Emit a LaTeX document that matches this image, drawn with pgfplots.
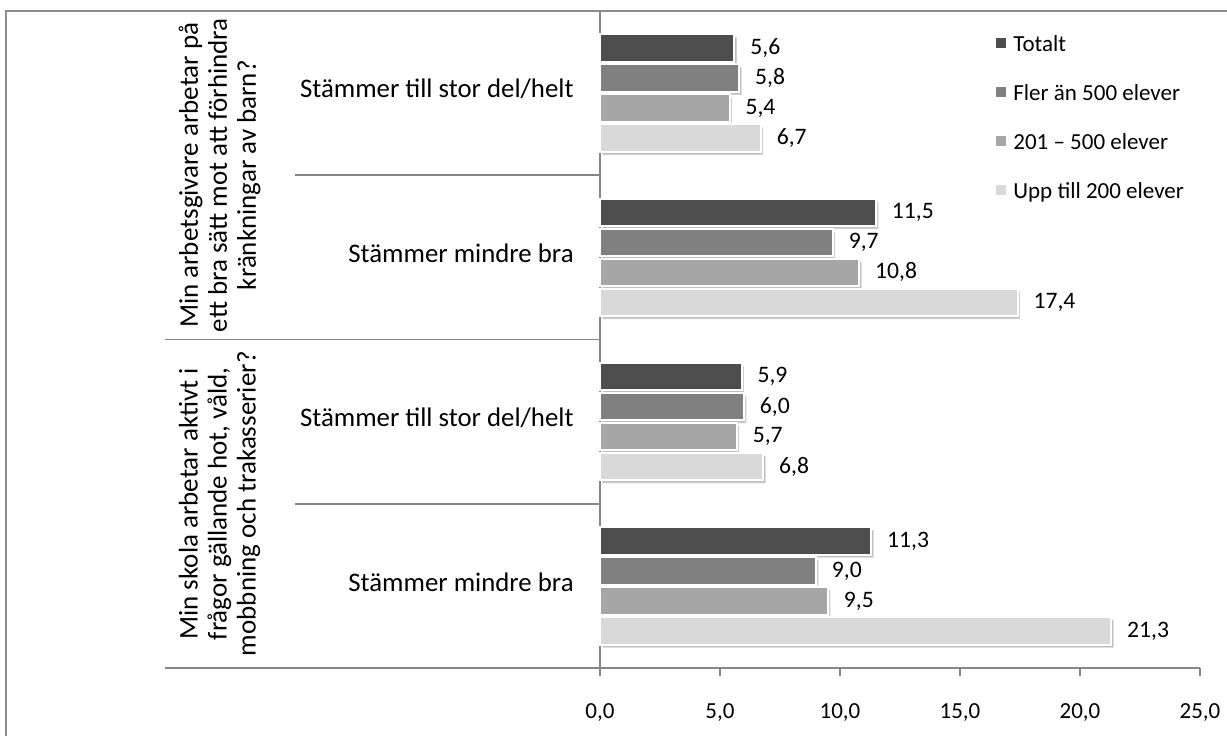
\documentclass[border=0pt]{standalone}
\usepackage{fontspec}
\setmainfont{Carlito}
\usepackage{pgfplots}
\pgfplotsset{compat=1.18}
\usetikzlibrary{shadows}
\definecolor{cA}{HTML}{4D4D4D}
\definecolor{cB}{HTML}{808080}
\definecolor{cC}{HTML}{A6A6A6}
\definecolor{cD}{HTML}{D9D9D9}
\definecolor{lineg}{HTML}{868686}
\begin{document}
\begin{tikzpicture}
\useasboundingbox (-300pt,-33.5pt) rectangle (313.5pt,334pt);
\draw[black!45, line width=1pt] (-297pt,-60pt) rectangle (340pt,328.5pt);
\begin{axis}[
  at={(0pt,0pt)}, anchor=south west,
  scale only axis, width=300pt, height=328.5pt,
  xmin=0, xmax=25, ymin=0.5, ymax=4.5,
  y dir=reverse,
  clip=false,
  axis x line*=bottom, axis y line*=left,
  axis line style={lineg, line width=0.8pt},
  xtick={0,5,10,15,20,25},
  ytick=\empty,
  tick align=outside,
  major tick length=4pt,
  x tick style={lineg, line width=0.8pt},
  /pgf/number format/assume math mode=true,
  xticklabel={\pgfmathprintnumber[fixed,fixed zerofill,precision=1,use comma]{\tick}},
  xticklabel style={font=\fontsize{11.5}{13}\selectfont, yshift=-10pt},
  xbar,
  bar width=0.168,
  point meta=x,
  nodes near coords={\pgfmathprintnumber[fixed,fixed zerofill,precision=1,use comma,assume math mode=true]{\pgfplotspointmeta}},
  every node near coord/.append style={font=\fontsize{11.8}{13}\selectfont, anchor=west, inner sep=0pt, xshift=7.5pt, text=black},
  legend style={at={(rel axis cs:0.66,0.9635)}, anchor=north west, draw=none, fill=none,
    font=\fontsize{11.5}{13}\selectfont, row sep=16.5pt, inner sep=0pt,
    nodes={inner sep=0pt, text depth=0pt}},
  legend cell align=left,
  legend image code/.code={\fill[#1] (0pt,-2.5pt) rectangle (5pt,2.5pt);},
  bars/.style={draw=white, line width=1pt, drop shadow={shadow xshift=1.2pt, shadow yshift=-1.5pt, opacity=0.25, fill=black}},
]
\addlegendimage{fill=cA, draw=none}
\addlegendentry{\hspace{3.5pt}Totalt}
\addlegendimage{fill=cB, draw=none}
\addlegendentry{\hspace{3.5pt}Fler än 500 elever}
\addlegendimage{fill=cC, draw=none}
\addlegendentry{\hspace{3.5pt}201 – 500 elever}
\addlegendimage{fill=cD, draw=none}
\addlegendentry{\hspace{3.5pt}Upp till 200 elever}

\addplot[bars, fill=cA, bar shift=-0.274, forget plot] coordinates {(5.6,1) (11.5,2) (5.9,3) (11.3,4)};
\addplot[bars, fill=cB, bar shift=-0.0913, forget plot] coordinates {(5.8,1) (9.7,2) (6.0,3) (9.0,4)};
\addplot[bars, fill=cC, bar shift=0.0913, forget plot] coordinates {(5.4,1) (10.8,2) (5.7,3) (9.5,4)};
\addplot[bars, fill=cD, bar shift=0.274, forget plot] coordinates {(6.7,1) (17.4,2) (6.8,3) (21.3,4)};

% category separators
\draw[lineg, line width=0.8pt] (axis cs:-12.71,1.5) -- (axis cs:0,1.5);
\draw[lineg, line width=0.8pt] (axis cs:-18.125,2.5) -- (axis cs:0,2.5);
\draw[lineg, line width=0.8pt] (axis cs:-12.71,3.5) -- (axis cs:0,3.5);
\draw[lineg, line width=0.8pt] (axis cs:-18.125,4.5) -- (axis cs:0,4.5);

% subgroup labels
\node[anchor=east, inner sep=0pt, font=\fontsize{13.4}{15}\selectfont] at ([xshift=-13pt,yshift=2pt]axis cs:0,1) {Stämmer till stor del/helt};
\node[anchor=east, inner sep=0pt, font=\fontsize{13.4}{15}\selectfont] at ([xshift=-13pt,yshift=2pt]axis cs:0,2) {Stämmer mindre bra};
\node[anchor=east, inner sep=0pt, font=\fontsize{13.4}{15}\selectfont] at ([xshift=-13pt,yshift=2pt]axis cs:0,3) {Stämmer till stor del/helt};
\node[anchor=east, inner sep=0pt, font=\fontsize{13.4}{15}\selectfont] at ([xshift=-13pt,yshift=2pt]axis cs:0,4) {Stämmer mindre bra};
% group labels
\node[rotate=90, align=center, inner sep=0pt, font=\fontsize{13.5}{14.5}\selectfont] at (axis cs:-15.85,1.5)
  {Min arbetsgivare arbetar på\\ett bra sätt mot att förhindra\\kränkningar av barn?};
\node[rotate=90, align=center, inner sep=0pt, font=\fontsize{13.5}{14.5}\selectfont] at (axis cs:-15.85,3.5)
  {Min skola arbetar aktivt i\\frågor gällande hot, våld,\\mobbning och trakasserier?};
\end{axis}
\end{tikzpicture}
\end{document}
